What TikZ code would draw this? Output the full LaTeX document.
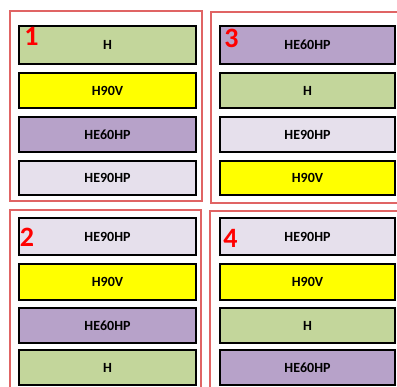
\documentclass[tikz,border=0pt]{standalone}
\usepackage{fontspec}
\setmainfont{Carlito}
\definecolor{gH}{HTML}{C3D69B}
\definecolor{yH}{HTML}{FFFF00}
\definecolor{pH}{HTML}{B7A2C9}
\definecolor{lH}{HTML}{E6E0EC}
\definecolor{frameRed}{HTML}{E06464}
\begin{document}
\begin{tikzpicture}[x=1pt,y=-1pt,
  frame/.style={draw=frameRed,line width=2.4pt},
  blk/.style={draw=black,line width=2pt,anchor=north west,inner sep=0pt,
    font=\fontsize{14}{16}\selectfont\bfseries},
  num/.style={text=red,font=\fontsize{28}{30}\selectfont\bfseries,inner sep=0pt}]
\useasboundingbox (0,0) rectangle (397,387);
\clip (0,0) rectangle (397,387);
% frames
\draw[frame] (10,11) rectangle (202,201);
\draw[frame] (211,12) rectangle (402,203);
\draw[frame] (10,210) rectangle (201,395);
\draw[frame] (210,211) rectangle (402,395);
% panel 1
\node[blk,fill=gH,minimum width=177,minimum height=38] (a1) at (18,25) {H};
\node[blk,fill=yH,minimum width=177,minimum height=35] (a2) at (18,72) {H90V};
\node[blk,fill=pH,minimum width=177,minimum height=35] (a3) at (18,116) {HE60HP};
\node[blk,fill=lH,minimum width=177,minimum height=34] (a4) at (18,160) {HE90HP};
\node[num] (n1) at (31.5,36) {1};
% panel 3
\node[blk,fill=pH,minimum width=175,minimum height=38] (c1) at (219,25) {HE60HP};
\node[blk,fill=gH,minimum width=175,minimum height=35] (c2) at (219,72) {H};
\node[blk,fill=lH,minimum width=175,minimum height=35] (c3) at (219,116) {HE90HP};
\node[blk,fill=yH,minimum width=175,minimum height=34] (c4) at (219,160) {H90V};
\node[num] (n3) at (231.5,38) {3};
% panel 2
\node[blk,fill=lH,minimum width=177,minimum height=37] (b1) at (18,217) {HE90HP};
\node[blk,fill=yH,minimum width=177,minimum height=36] (b2) at (18,263) {H90V};
\node[blk,fill=pH,minimum width=177,minimum height=35] (b3) at (18,307) {HE60HP};
\node[blk,fill=gH,minimum width=177,minimum height=35] (b4) at (18,349) {H};
\node[num] (n2) at (27,237.5) {2};
% panel 4
\node[blk,fill=lH,minimum width=175,minimum height=37] (d1) at (219,217) {HE90HP};
\node[blk,fill=yH,minimum width=175,minimum height=36] (d2) at (219,263) {H90V};
\node[blk,fill=gH,minimum width=175,minimum height=35] (d3) at (219,307) {H};
\node[blk,fill=pH,minimum width=175,minimum height=35] (d4) at (219,349) {HE60HP};
\node[num] (n4) at (230.5,238) {4};
\end{tikzpicture}
\end{document}
